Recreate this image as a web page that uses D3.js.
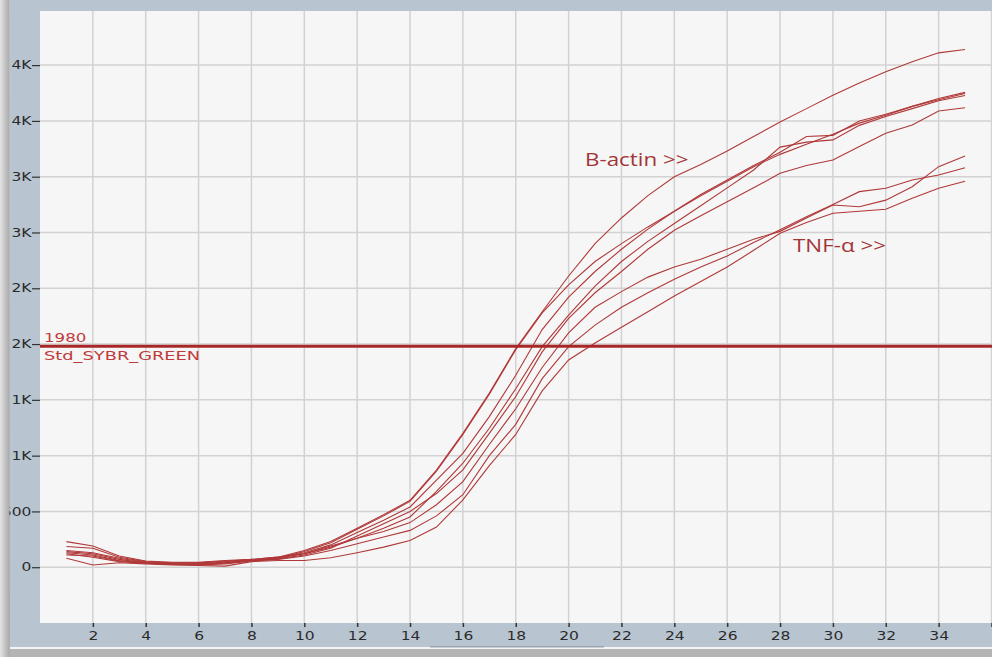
<!DOCTYPE html>
<html>
<head>
<meta charset="utf-8">
<script src="https://cdn.jsdelivr.net/npm/d3@7"></script>
<style>
  html, body { margin: 0; padding: 0; background: #c8c8c8; }
  svg { display: block; }
</style>
</head>
<body>
<div id="chart"></div>
<script>
// cycle numbers
var cycles = d3.range(1, 36);

// B-actin wells
var bActin1 = [150,130,80,45,35,40,50,70,90,150,230,350,470,600,870,1200,1560,1960,2290,2610,2900,3130,3330,3500,3610,3730,3860,3990,4110,4230,4340,4440,4530,4610,4640];
var bActin2 = [140,120,70,40,30,30,40,60,80,140,220,340,460,590,860,1190,1550,1950,2280,2530,2740,2900,3050,3190,3330,3460,3590,3700,3790,3880,3980,4050,4130,4190,4245];
var bActin3 = [185,170,90,50,40,40,55,65,85,130,200,310,420,540,780,1021,1350,1720,2130,2420,2650,2850,3030,3190,3340,3470,3600,3720,3860,3870,4000,4060,4130,4200,4256];
var bActin4 = [229,190,100,55,45,45,60,70,90,120,180,260,350,450,680,932,1245,1600,1977,2260,2520,2740,2920,3080,3240,3400,3560,3765,3810,3830,3960,4040,4110,4180,4227];
var bActin5 = [110,100,55,35,25,20,30,55,75,110,170,280,390,500,660,872,1200,1530,1930,2230,2460,2650,2850,3020,3150,3276,3400,3530,3600,3650,3770,3889,3963,4089,4118];

// TNF-a wells
var tnf1 = [130,110,60,40,30,30,45,60,80,120,190,260,320,400,560,767,1100,1420,1790,2100,2330,2470,2600,2690,2760,2850,2940,3010,3130,3246,3230,3290,3410,3590,3685];
var tnf2 = [120,90,50,35,25,25,35,55,70,100,150,210,270,330,460,650,1000,1280,1690,1977,2170,2330,2460,2580,2690,2790,2910,3024,3140,3250,3366,3396,3470,3515,3580];
var tnf3 = [80,20,40,30,20,15,10,50,60,60,85,130,180,240,360,603,910,1190,1580,1857,2010,2150,2290,2430,2560,2690,2840,2993,3090,3172,3190,3208,3307,3396,3459];

var allWells = [bActin1, bActin2, bActin3, bActin4, bActin5, tnf1, tnf2, tnf3];

var threshold = 1980;
var thresholdName = "Std_SYBR_GREEN";

var xTicks = [2,4,6,8,10,12,14,16,18,20,22,24,26,28,30,32,34,36];
var xTickLabels = ["2","4","6","8","10","12","14","16","18","20","22","24","26","28","30","32","34",""];
var yTicks = [0,500,1000,1500,2000,2500,3000,3500,4000,4500];
var yTickLabels = ["0","500","1K","1K","2K","2K","3K","3K","4K","4K"];

var W = 992, H = 657;
var plotL = 40, plotT = 11, plotR = 992, plotB = 623;
var stretch = 1.35;

var svg = d3.select("#chart").append("svg")
    .attr("width", W)
    .attr("height", H);

var defs = svg.append("defs");
var sh = defs.append("linearGradient").attr("id", "lshadow");
sh.append("stop").attr("offset", "0%").attr("stop-color", "#e4e4e4");
sh.append("stop").attr("offset", "100%").attr("stop-color", "#a9a9a9");
var bs = defs.append("linearGradient").attr("id", "bshadow")
    .attr("x1", 0).attr("y1", 0).attr("x2", 0).attr("y2", 1);
bs.append("stop").attr("offset", "0%").attr("stop-color", "#d4d4d4");
bs.append("stop").attr("offset", "100%").attr("stop-color", "#b4b4b4");

// outer window
svg.append("rect").attr("x", 0).attr("y", 0).attr("width", W).attr("height", H).attr("fill", "url(#bshadow)");
svg.append("rect").attr("x", 10).attr("y", 0).attr("width", W - 10).attr("height", 647).attr("fill", "#b8c4cf");
svg.append("rect").attr("x", 10).attr("y", 647).attr("width", W - 10).attr("height", 2).attr("fill", "#f4f4f4");
svg.append("rect").attr("x", 430).attr("y", 646).attr("width", 174).attr("height", 1.5).attr("fill", "#98a4b0");

var x = d3.scaleLinear().domain([0, 36]).range([plotL, 991.5]);
var y = d3.scaleLinear().domain([-500, 4985]).range([plotB, plotT]);

// plot area
svg.append("rect")
    .attr("x", plotL).attr("y", plotT)
    .attr("width", plotR - plotL + 2).attr("height", plotB - plotT)
    .attr("fill", "#f6f6f6");

var grid = svg.append("g");
grid.selectAll("line.v")
    .data(xTicks)
    .enter().append("line")
    .attr("class", "v")
    .attr("x1", function(d){ return x(d); })
    .attr("x2", function(d){ return x(d); })
    .attr("y1", plotT).attr("y2", plotB)
    .attr("stroke", "#d2d2d2").attr("stroke-width", 1.5);
grid.selectAll("line.h")
    .data(yTicks)
    .enter().append("line")
    .attr("class", "h")
    .attr("x1", plotL).attr("x2", W)
    .attr("y1", function(d){ return y(d); })
    .attr("y2", function(d){ return y(d); })
    .attr("stroke", "#d2d2d2").attr("stroke-width", 1.5);

// amplification curves
var line = d3.line()
    .x(function(d, i){ return x(cycles[i]); })
    .y(function(d){ return y(d); });

svg.append("g").selectAll("path")
    .data(allWells)
    .enter().append("path")
    .attr("d", line)
    .attr("fill", "none")
    .attr("stroke", "#b03838")
    .attr("stroke-width", 1.1);

// threshold
svg.append("line")
    .attr("x1", plotL).attr("x2", W)
    .attr("y1", y(threshold)).attr("y2", y(threshold))
    .attr("stroke", "#a82828").attr("stroke-width", 3);

function stretchedText(px, py, txt, size, fam, col, sx) {
    svg.append("g").attr("transform", "translate(" + px + "," + py + ")")
      .append("text")
        .attr("transform", "scale(" + sx + ",1)")
        .attr("font-family", fam)
        .attr("font-size", size)
        .attr("fill", col)
        .text(txt);
}

stretchedText(44, 341.5, String(threshold), 11.5, "DejaVu Sans", "#bf3b3b", 1.45);
stretchedText(44, 360, thresholdName, 11.5, "DejaVu Sans", "#bf3b3b", 1.55);

stretchedText(585, 166, "B-actin >>", 17.5, "Open Sans", "#a33535", 1.28);
stretchedText(793, 252, "TNF-\u03b1 >>", 17.5, "Open Sans", "#a33535", 1.28);

// axes
var xAxis = svg.append("g")
    .attr("transform", "translate(0," + plotB + ")")
    .call(d3.axisBottom(x).tickValues(xTicks)
        .tickFormat(function(d, i){ return xTickLabels[i]; })
        .tickSize(4).tickSizeOuter(0));
xAxis.select(".domain").remove();
xAxis.selectAll("line").attr("stroke", "#333").attr("stroke-width", 1.5);
xAxis.selectAll("text")
    .attr("y", 17).attr("dy", 0)
    .attr("transform", "scale(" + stretch + ",1)")
    .attr("font-family", "DejaVu Sans").attr("font-size", 11.5)
    .attr("fill", "#2b2b2b");

var yAxis = svg.append("g")
    .attr("transform", "translate(" + plotL + ",0)")
    .call(d3.axisLeft(y).tickValues(yTicks)
        .tickFormat(function(d, i){ return yTickLabels[i]; })
        .tickSize(8).tickSizeOuter(0));
yAxis.select(".domain").remove();
yAxis.selectAll("line").attr("stroke", "#333").attr("stroke-width", 1.2);
yAxis.selectAll("text")
    .attr("x", -8.5 / stretch)
    .attr("transform", "scale(" + stretch + ",1)")
    .attr("font-family", "DejaVu Sans").attr("font-size", 11.5)
    .attr("fill", "#2b2b2b");

// left shadow covers clipped labels
svg.append("rect").attr("x", 0).attr("y", 0).attr("width", 9.5).attr("height", H).attr("fill", "url(#lshadow)");
</script>
</body>
</html>
